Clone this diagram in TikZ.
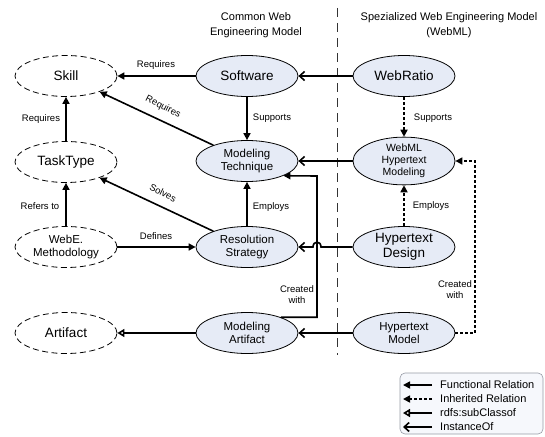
\documentclass[tikz,border=0pt]{standalone}
\usepackage{fontspec}
\setmainfont{Liberation Sans}
\usetikzlibrary{arrows.meta,shapes.geometric}
\definecolor{nodefill}{RGB}{230,235,246}
\definecolor{legfill}{RGB}{246,248,252}
\definecolor{legdraw}{RGB}{150,155,165}
\begin{document}
\begin{tikzpicture}[x=1pt,y=-1pt,
  ell/.style={ellipse, minimum width=102pt, minimum height=41pt, inner sep=0pt, line width=0.8pt, align=center},
  cls/.style={ell, draw=black, dash pattern=on 6pt off 3.5pt, fill=white},
  inst/.style={ell, draw=black, fill=nodefill},
  big/.style={font=\fontsize{13.5}{15}\selectfont},
  mid/.style={font=\fontsize{11.5}{13.5}\selectfont},
  sml/.style={font=\fontsize{10.5}{12}\selectfont},
  lbl/.style={font=\fontsize{9.5}{11}\selectfont, inner sep=1pt},
  hdr/.style={font=\fontsize{11}{15}\selectfont, align=center},
  legtxt/.style={font=\fontsize{11}{13}\selectfont, anchor=west, inner sep=0pt},
  func/.style={line width=1.6pt, -{Triangle[length=7pt,width=7pt]}},
  inh/.style={func, dash pattern=on 3pt off 2pt},
  sub/.style={line width=1.6pt, -{Triangle[open,length=7pt,width=8pt,fill=white]}},
  ins/.style={line width=1.6pt, -{Straight Barb[length=5pt,width=9pt]}},
  sep/.style={line width=0.8pt, dash pattern=on 9pt off 6pt, black!80}
]
\useasboundingbox (0,0) rectangle (545,436);

% headers
\node[hdr] (hcommon) at (256,25) {Common Web\\Engineering Model};
\node[hdr] (hspec) at (449,25) {Spezialized Web Engineering Model\\(WebML)};

% separator
\draw[sep] (337,8) -- (337,355);

% nodes
\node[cls,big] (skill) at (66,76) {Skill};
\node[cls,big] (task) at (66,162) {TaskType};
\node[cls,mid] (webe) at (66,247) {WebE.\\Methodology};
\node[cls,big] (art) at (66,333) {Artifact};

\node[inst,big] (sw) at (247,76) {Software};
\node[inst,mid] (mt) at (247,161) {Modeling\\Technique};
\node[inst,mid] (rs) at (247,247) {Resolution\\Strategy};
\node[inst,mid] (ma) at (247,333) {Modeling\\Artifact};

\node[inst,big] (wr) at (404,76) {WebRatio};
\node[inst,sml] (wm) at (404,161) {WebML\\Hypertext\\Modeling};
\node[inst,big] (hd) at (404,247) {Hypertext\\Design};
\node[inst,mid] (hm) at (404,333) {Hypertext\\Model};

% edges
\draw[func] (sw) -- (skill);
\node[lbl] (l1) at (156,65) {Requires};
\draw[ins] (wr) -- (sw);
\draw[func] (sw) -- (mt);
\node[lbl] (l2) at (272,118) {Supports};
\draw[func] (mt) -- (skill);
\node[lbl, rotate=-27] (lr) at (163,107) {Requires};
\draw[func] (task) -- (skill);
\node[lbl] (l3) at (41,119) {Requires};
\draw[inh] (wr) -- (wm);
\node[lbl] (l4) at (433,118) {Supports};
\draw[ins] (wm) -- (mt);
\draw[func] (rs) -- (mt);
\node[lbl] (l5) at (271,207) {Employs};
\draw[func] (rs) -- (task);
\node[lbl, rotate=-27] (ls) at (163,193) {Solves};
\draw[func] (webe) -- (task);
\node[lbl] (l6) at (40,206) {Refers to};
\draw[func] (webe) -- (rs);
\node[lbl] (l7) at (156,236) {Defines};
\draw[inh] (hd) -- (wm);
\node[lbl] (l8) at (431,206) {Employs};
\coordinate (hopR) at (321,247);
\coordinate (hopL) at (313,247);
\draw[ins] (hd) -- (hopR) .. controls (321,240.5) and (313,240.5) .. (hopL) -- (rs);
\coordinate (cw) at (317,176);
\draw[func] (ma.25) -| (cw) -- (mt.-22);
\node[lbl, align=center] (l9) at (297,295) {Created\\with};
\coordinate (cwr) at (475,247);
\draw[inh] (hm.east) -| (cwr) |- (wm.east);
\node[lbl, align=center] (l10) at (455,290) {Created\\with};
\draw[ins] (hm) -- (ma);
\draw[sub] (ma) -- (art);

% legend
\draw[legdraw, fill=legfill, rounded corners=5pt, line width=0.6pt] (400,373) rectangle (543,434);
\coordinate (a1s) at (432,385); \coordinate (a1e) at (403,385);
\coordinate (a2s) at (432,399); \coordinate (a2e) at (403,399);
\coordinate (a3s) at (432,413); \coordinate (a3e) at (403,413);
\coordinate (a4s) at (432,427); \coordinate (a4e) at (403,427);
\draw[func] (a1s) -- (a1e);
\draw[inh] (a2s) -- (a2e);
\draw[sub] (a3s) -- (a3e);
\draw[ins] (a4s) -- (a4e);
\node[legtxt] (t1) at (440,385) {Functional Relation};
\node[legtxt] (t2) at (440,399) {Inherited Relation};
\node[legtxt] (t3) at (440,413) {rdfs:subClassof};
\node[legtxt] (t4) at (440,427) {InstanceOf};
\end{tikzpicture}
\end{document}
